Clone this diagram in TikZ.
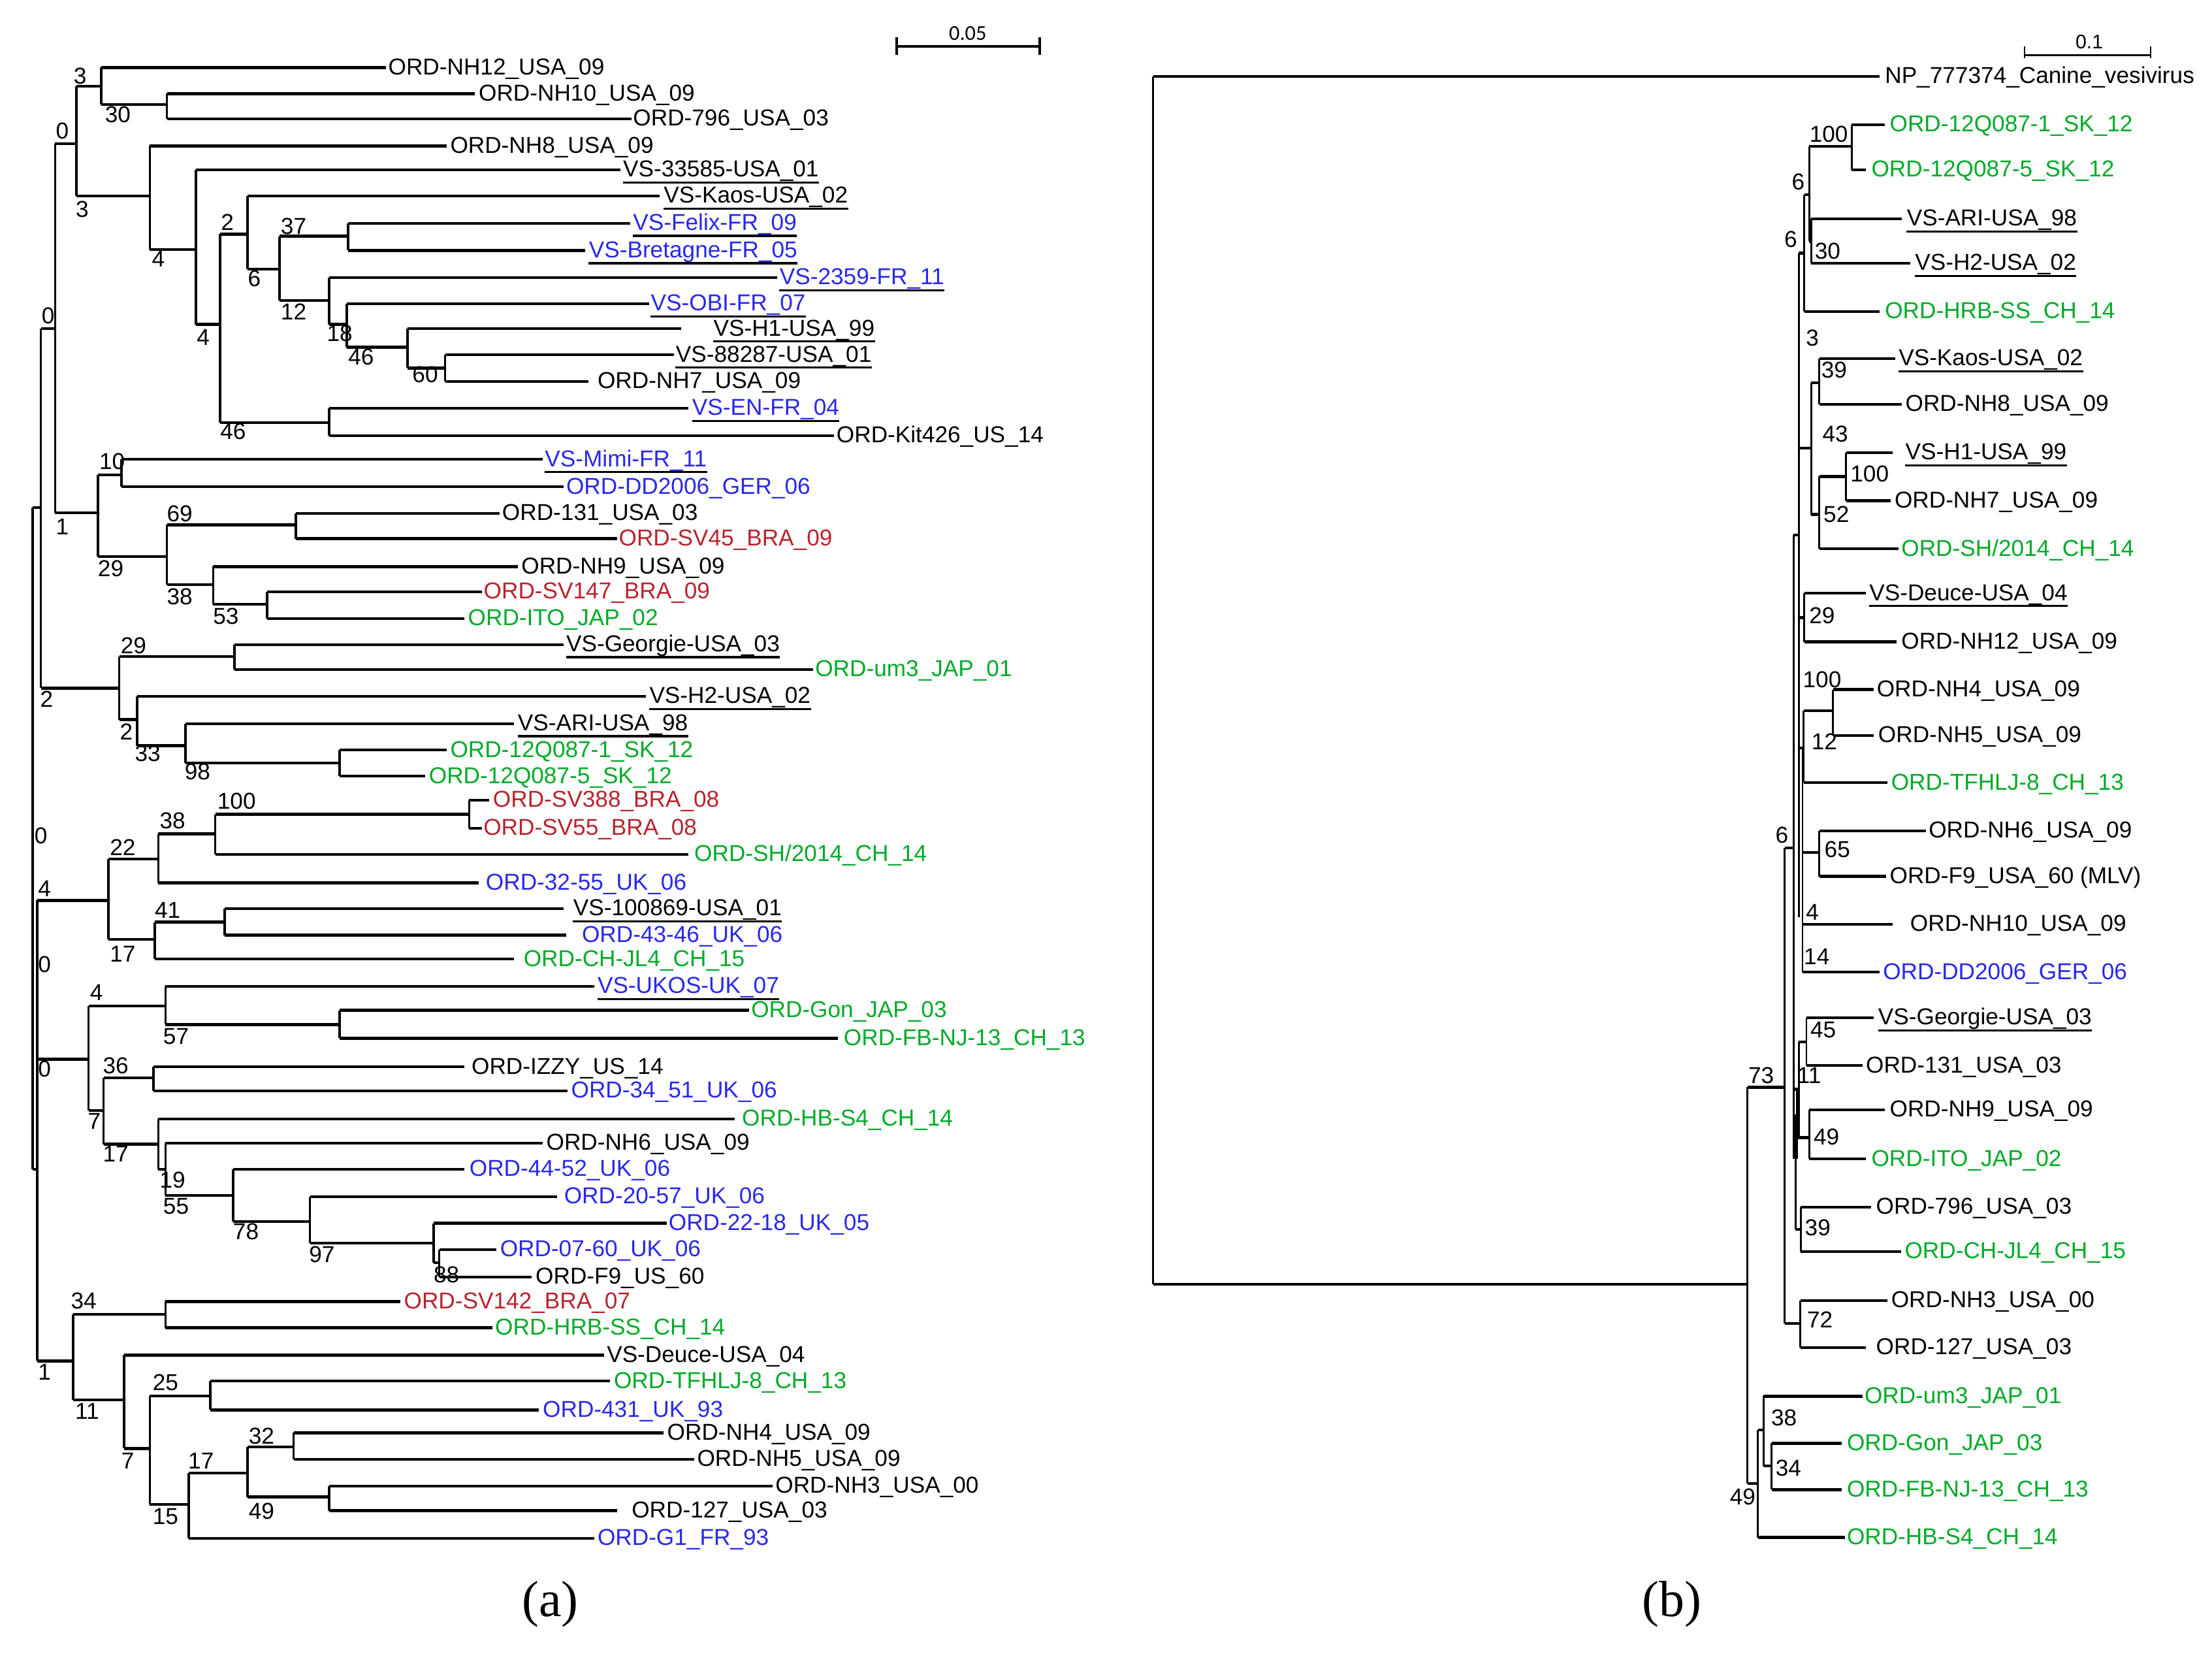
\documentclass[tikz,border=0pt]{standalone}
\usepackage{fontspec}
\setmainfont{Liberation Sans}
\newfontfamily\serifa{Liberation Serif}
\newfontfamily\carl{Carlito}
\definecolor{lblue}{RGB}{40,40,235}
\definecolor{lred}{RGB}{185,35,45}
\definecolor{lgreen}{RGB}{0,170,40}
\newcounter{bsn}
\newcommand\Hbr[3]{\draw[hbr] (#1,#3) -- (#2,#3);}
\newcommand\Vbr[3]{\draw[vbr] (#1,#2) -- (#1,#3);}
\newcommand\Leaf[7]{\draw[hbr] (#2,#4) -- (#3,#4);\node[lab,text=#6] (#1) at (#5,#4) {#7};}
\newcommand\Uline[1]{\draw[ulin] ([yshift=-9pt]#1.west) -- ([yshift=-9pt]#1.east);}
\newcommand\Boot[3]{\stepcounter{bsn}\node[bsl] (bs\thebsn) at (#1,#2) {#3};}
\begin{document}
\begin{tikzpicture}[x=1pt,y=-1pt,
  hbr/.style={line width=2pt,line cap=square},
  vbr/.style={line width=1.7pt,line cap=square},
  lab/.style={font=\fontsize{16.3}{18}\selectfont,inner sep=0pt,text height=12pt,text depth=2pt,anchor=west},
  bsl/.style={font=\fontsize{16.3}{18}\selectfont,inner sep=0pt},
  ulin/.style={line width=1.6pt}]
\fill[white] (0,0) rectangle (1568,1172);
\useasboundingbox (0,0) rectangle (1568,1172);

% ================= LEFT TREE (a) =================
\Vbr{23.0}{359.6}{828.7}
\Hbr{23.0}{29.0}{359.6}
\Hbr{23.0}{26.5}{828.7}
\Vbr{29.0}{233.0}{487.7}
\Hbr{29.0}{39.1}{233.0}
\Vbr{39.1}{101.9}{363.5}
\Hbr{39.1}{54.2}{101.9}
\Vbr{54.2}{61.0}{138.9}
\Hbr{54.2}{71.9}{61.0}
\Vbr{71.9}{47.9}{74.1}
\Leaf{aNHtw}{71.9}{273.6}{47.9}{275.1}{black}{ORD-NH12\_USA\_09}
\Hbr{71.9}{118.3}{74.1}
\Vbr{118.3}{66.4}{84.1}
\Leaf{aNHten}{118.3}{336.6}{66.4}{339.2}{black}{ORD-NH10\_USA\_09}
\Leaf{aSvn}{118.3}{447.6}{84.1}{448.6}{black}{ORD-796\_USA\_03}
\Hbr{54.2}{106.2}{138.9}
\Vbr{106.2}{103.4}{176.7}
\Leaf{aNHe}{106.2}{316.5}{103.4}{319.0}{black}{ORD-NH8\_USA\_09}
\Hbr{106.2}{139.0}{176.7}
\Vbr{139.0}{120.4}{229.9}
\Leaf{aVSa}{139.0}{440.0}{120.4}{441.5}{black}{VS-33585-USA\_01}\Uline{aVSa}
\Hbr{139.0}{156.1}{229.9}
\Vbr{156.1}{165.9}{299.4}
\Hbr{156.1}{175.3}{165.9}
\Vbr{175.3}{138.9}{190.6}
\Leaf{aKaos}{175.3}{467.8}{138.9}{470.3}{black}{VS-Kaos-USA\_02}\Uline{aKaos}
\Hbr{175.3}{198.0}{190.6}
\Vbr{198.0}{167.4}{213.0}
\Hbr{198.0}{246.9}{167.4}
\Vbr{246.9}{158.2}{177.5}
\Leaf{aFelix}{246.9}{446.6}{158.2}{448.6}{lblue}{VS-Felix-FR\_09}\Uline{aFelix}
\Leaf{aBret}{246.9}{414.8}{177.5}{417.3}{lblue}{VS-Bretagne-FR\_05}\Uline{aBret}
\Hbr{198.0}{233.3}{213.0}
\Vbr{233.3}{196.8}{229.9}
\Leaf{aTwo}{233.3}{551.0}{196.8}{552.5}{lblue}{VS-2359-FR\_11}\Uline{aTwo}
\Hbr{233.3}{245.9}{229.9}
\Vbr{245.9}{215.3}{246.1}
\Leaf{aOBI}{245.9}{460.2}{215.3}{461.2}{lblue}{VS-OBI-FR\_07}\Uline{aOBI}
\Hbr{245.9}{288.8}{246.1}
\Vbr{288.8}{233.0}{260.8}
\Leaf{aHone}{288.8}{482.9}{233.0}{505.6}{black}{VS-H1-USA\_99}\Uline{aHone}
\Hbr{288.8}{315.5}{260.8}
\Vbr{315.5}{251.5}{270.4}
\Leaf{aEight}{315.5}{477.9}{251.5}{478.9}{black}{VS-88287-USA\_01}\Uline{aEight}
\Leaf{aNHsv}{315.5}{417.3}{270.4}{423.4}{black}{ORD-NH7\_USA\_09}
\Hbr{156.1}{233.3}{299.4}
\Vbr{233.3}{289.4}{308.7}
\Leaf{aEN}{233.3}{487.9}{289.4}{490.5}{lblue}{VS-EN-FR\_04}\Uline{aEN}
\Leaf{aKit}{233.3}{591.3}{308.7}{592.8}{black}{ORD-Kit426\_US\_14}
\Hbr{39.1}{69.4}{363.5}
\Vbr{69.4}{336.5}{394.3}
\Hbr{69.4}{86.0}{336.5}
\Vbr{86.0}{325.6}{345.0}
\Leaf{aMimi}{86.0}{384.6}{325.6}{386.1}{lblue}{VS-Mimi-FR\_11}\Uline{aMimi}
\Leaf{aDD}{86.0}{399.7}{345.0}{401.2}{lblue}{ORD-DD2006\_GER\_06}
\Hbr{69.4}{118.3}{394.3}
\Vbr{118.3}{371.9}{414.4}
\Hbr{118.3}{209.6}{371.9}
\Vbr{209.6}{363.8}{381.7}
\Leaf{aOTO}{209.6}{354.3}{363.8}{355.8}{black}{ORD-131\_USA\_03}
\Leaf{aSVff}{209.6}{437.5}{381.7}{438.5}{lred}{ORD-SV45\_BRA\_09}
\Hbr{118.3}{151.1}{414.4}
\Vbr{151.1}{401.6}{428.3}
\Leaf{aNHn}{151.1}{366.9}{401.6}{369.4}{black}{ORD-NH9\_USA\_09}
\Hbr{151.1}{189.4}{428.3}
\Vbr{189.4}{419.3}{438.3}
\Leaf{aSVof}{189.4}{341.7}{419.3}{342.7}{lred}{ORD-SV147\_BRA\_09}
\Leaf{aITO}{189.4}{329.1}{438.3}{331.6}{lgreen}{ORD-ITO\_JAP\_02}
\Hbr{29.0}{84.5}{487.7}
\Vbr{84.5}{465.3}{510.0}
\Hbr{84.5}{166.2}{465.3}
\Vbr{166.2}{456.8}{474.5}
\Leaf{aGeo}{166.2}{399.7}{456.8}{401.2}{black}{VS-Georgie-USA\_03}\Uline{aGeo}
\Leaf{aUm}{166.2}{576.2}{474.5}{577.7}{lgreen}{ORD-um3\_JAP\_01}
\Hbr{84.5}{97.1}{510.0}
\Vbr{97.1}{493.5}{528.5}
\Leaf{aHtwo}{97.1}{457.7}{493.5}{460.2}{black}{VS-H2-USA\_02}\Uline{aHtwo}
\Hbr{97.1}{131.4}{528.5}
\Vbr{131.4}{512.8}{540.8}
\Leaf{aARI}{131.4}{364.4}{512.8}{366.9}{black}{VS-ARI-USA\_98}\Uline{aARI}
\Hbr{131.4}{240.8}{540.8}
\Vbr{240.8}{531.6}{550.1}
\Leaf{aQone}{240.8}{316.5}{531.6}{319.0}{lgreen}{ORD-12Q087-1\_SK\_12}
\Leaf{aQfive}{240.8}{301.4}{550.1}{303.9}{lgreen}{ORD-12Q087-5\_SK\_12}
% lower half
\Vbr{26.5}{638.1}{964.5}
\Hbr{26.5}{76.9}{638.1}
\Vbr{76.9}{608.7}{665.8}
\Hbr{76.9}{112.2}{608.7}
\Vbr{112.2}{591.0}{625.7}
\Hbr{112.2}{152.6}{591.0}
\Vbr{152.6}{577.1}{605.6}
\Hbr{152.6}{332.6}{577.1}
\Vbr{332.6}{567.1}{587.1}
\Leaf{aSVte}{332.6}{346.7}{567.1}{349.3}{lred}{ORD-SV388\_BRA\_08}
\Leaf{aSVff2}{332.6}{341.7}{587.1}{342.5}{lred}{ORD-SV55\_BRA\_08}
\Leaf{aSH}{152.6}{487.9}{605.6}{492.0}{lgreen}{ORD-SH/2014\_CH\_14}
\Leaf{aTtf}{112.2}{339.2}{625.7}{344.2}{lblue}{ORD-32-55\_UK\_06}
\Hbr{76.9}{109.7}{665.8}
\Vbr{109.7}{653.5}{679.7}
\Hbr{109.7}{159.1}{653.5}
\Vbr{159.1}{643.9}{662.7}
\Leaf{aVSb}{159.1}{399.7}{643.9}{406.2}{black}{VS-100869-USA\_01}\Uline{aVSb}
\Leaf{aFth}{159.1}{401.2}{662.7}{412.3}{lblue}{ORD-43-46\_UK\_06}
\Leaf{aCH}{109.7}{364.4}{679.7}{371.0}{lgreen}{ORD-CH-JL4\_CH\_15}
\Hbr{26.5}{62.8}{750.7}
\Vbr{62.8}{712.9}{787.0}
\Hbr{62.8}{117.3}{712.9}
\Vbr{117.3}{699.0}{726.1}
\Leaf{aUKOS}{117.3}{421.4}{699.0}{423.4}{lblue}{VS-UKOS-UK\_07}\Uline{aUKOS}
\Hbr{117.3}{240.8}{726.1}
\Vbr{240.8}{716.0}{735.8}
\Leaf{aGon}{240.8}{530.8}{716.0}{532.3}{lgreen}{ORD-Gon\_JAP\_03}
\Leaf{aFB}{240.8}{593.8}{735.8}{597.9}{lgreen}{ORD-FB-NJ-13\_CH\_13}
\Hbr{62.8}{73.4}{787.0}
\Vbr{73.4}{763.9}{810.9}
\Hbr{73.4}{108.7}{763.9}
\Vbr{108.7}{756.1}{773.1}
\Leaf{aIZZY}{108.7}{329.1}{756.1}{334.1}{black}{ORD-IZZY\_US\_14}
\Leaf{aTfo}{108.7}{402.2}{773.1}{404.7}{lblue}{ORD-34\_51\_UK\_06}
\Hbr{73.4}{112.2}{810.9}
\Vbr{112.2}{792.9}{828.7}
\Leaf{aHB}{112.2}{520.7}{792.9}{525.8}{lgreen}{ORD-HB-S4\_CH\_14}
\Hbr{112.2}{117.3}{828.7}
\Vbr{117.3}{810.2}{847.2}
\Leaf{aNHsix}{117.3}{384.6}{810.2}{387.1}{black}{ORD-NH6\_USA\_09}
\Hbr{117.3}{165.2}{847.2}
\Vbr{165.2}{828.7}{865.7}
\Leaf{aFft}{165.2}{329.1}{828.7}{332.6}{lblue}{ORD-44-52\_UK\_06}
\Hbr{165.2}{219.7}{865.7}
\Vbr{219.7}{848.0}{881.1}
\Leaf{aTwf}{219.7}{394.7}{848.0}{399.7}{lblue}{ORD-20-57\_UK\_06}
\Hbr{219.7}{307.4}{881.1}
\Vbr{307.4}{866.9}{895.0}
\Leaf{aTte}{307.4}{472.8}{866.9}{473.8}{lblue}{ORD-22-18\_UK\_05}
\Hbr{307.4}{311.4}{895.0}
\Vbr{311.4}{885.5}{905.0}
\Leaf{aZs}{311.4}{351.8}{885.5}{354.3}{lblue}{ORD-07-60\_UK\_06}
\Leaf{aFn}{311.4}{377.0}{905.0}{379.5}{black}{ORD-F9\_US\_60}
\Hbr{26.5}{51.7}{964.5}
\Vbr{51.7}{931.3}{992.0}
\Hbr{51.7}{117.3}{931.3}
\Vbr{117.3}{922.4}{941.0}
\Leaf{aSVoft}{117.3}{283.7}{922.4}{286.2}{lred}{ORD-SV142\_BRA\_07}
\Leaf{aHRB}{117.3}{349.2}{941.0}{350.8}{lgreen}{ORD-HRB-SS\_CH\_14}
\Hbr{51.7}{88.0}{992.0}
\Vbr{88.0}{960.3}{1026.5}
\Leaf{aDeuce}{88.0}{428.4}{960.3}{430.0}{black}{VS-Deuce-USA\_04}
\Hbr{88.0}{106.2}{1026.5}
\Vbr{106.2}{989.2}{1066.3}
\Hbr{106.2}{149.0}{989.2}
\Vbr{149.0}{978.8}{999.2}
\Leaf{aTF}{149.0}{432.5}{978.8}{435.0}{lgreen}{ORD-TFHLJ-8\_CH\_13}
\Leaf{aFot}{149.0}{382.0}{999.2}{384.6}{lblue}{ORD-431\_UK\_93}
\Hbr{106.2}{133.9}{1066.3}
\Vbr{133.9}{1044.0}{1090.2}
\Hbr{133.9}{175.3}{1044.0}
\Vbr{175.3}{1025.4}{1060.9}
\Hbr{175.3}{208.1}{1025.4}
\Vbr{208.1}{1015.4}{1034.2}
\Leaf{aNHfour}{208.1}{470.3}{1015.4}{472.8}{black}{ORD-NH4\_USA\_09}
\Leaf{aNHfive}{208.1}{492.0}{1034.2}{494.0}{black}{ORD-NH5\_USA\_09}
\Hbr{175.3}{233.3}{1060.9}
\Vbr{233.3}{1053.2}{1070.6}
\Leaf{aNHthree}{233.3}{547.5}{1053.2}{549.5}{black}{ORD-NH3\_USA\_00}
\Leaf{aOtS}{233.3}{437.5}{1070.6}{447.6}{black}{ORD-127\_USA\_03}
\Leaf{aGone}{133.9}{421.4}{1090.2}{423.4}{lblue}{ORD-G1\_FR\_93}

\Boot{56.8}{54.0}{3}\Boot{83.5}{81.0}{30}\Boot{44.2}{92.6}{0}\Boot{58.3}{148.2}{3}
\Boot{161.2}{157.4}{2}\Boot{208.1}{160.5}{37}\Boot{112.2}{183.6}{4}\Boot{180.3}{197.5}{6}
\Boot{208.1}{220.7}{12}\Boot{34.1}{223.8}{0}\Boot{144.0}{239.2}{4}\Boot{240.8}{236.1}{18}
\Boot{256.0}{253.1}{46}\Boot{301.4}{265.4}{60}\Boot{165.2}{305.6}{46}\Boot{79.5}{327.2}{10}
\Boot{44.2}{373.5}{1}\Boot{127.4}{364.2}{69}\Boot{78.5}{402.8}{29}\Boot{127.4}{422.9}{38}
\Boot{160.1}{436.8}{53}\Boot{94.6}{457.6}{29}\Boot{33.1}{495.4}{2}\Boot{89.5}{518.5}{2}
\Boot{104.7}{533.9}{33}\Boot{140.0}{547.0}{98}\Boot{167.7}{567.9}{100}\Boot{122.3}{581.7}{38}
\Boot{87.0}{600.3}{22}\Boot{29.0}{592.5}{0}\Boot{31.5}{629.6}{4}\Boot{118.8}{645.0}{41}
\Boot{87.0}{675.9}{17}\Boot{31.5}{683.6}{0}\Boot{68.4}{703.6}{4}\Boot{124.8}{734.5}{57}
\Boot{31.5}{757.7}{0}\Boot{82.0}{755.4}{36}\Boot{66.9}{794.7}{7}\Boot{82.0}{817.9}{17}
\Boot{122.3}{836.4}{19}\Boot{124.8}{854.9}{55}\Boot{174.3}{872.7}{78}\Boot{228.2}{888.8}{97}
\Boot{316.5}{903.5}{88}\Boot{59.3}{922.1}{34}\Boot{31.5}{972.2}{1}\Boot{61.8}{1000.0}{11}
\Boot{117.3}{979.9}{25}\Boot{90.6}{1035.5}{7}\Boot{142.5}{1035.5}{17}\Boot{185.4}{1017.7}{32}
\Boot{117.3}{1074.8}{15}\Boot{185.4}{1071.0}{49}

% scale bar (a)
\coordinate (sbaL) at (635.5,32.7);
\coordinate (sbaR) at (736.9,32.7);
\draw[line width=1.8pt] (sbaL) -- (sbaR);
\draw[line width=1.8pt] ([yshift=6.3pt]sbaL) -- ([yshift=-6pt]sbaL);
\draw[line width=1.8pt] ([yshift=6.3pt]sbaR) -- ([yshift=-6pt]sbaR);
\node[inner sep=0pt,font=\carl\fontsize{15}{17}\selectfont] (sbat) at (686,23.5) {0.05};

\node[inner sep=0pt,font=\serifa\fontsize{36}{40}\selectfont] (capa) at (390,1137) {(a)};

% ================= RIGHT TREE (b) =================
\begin{scope}[hbr/.style={line width=2pt,line cap=square},vbr/.style={line width=1.3pt,line cap=square}]
\Vbr{817.5}{54.2}{910.1}
\Hbr{817.5}{1238.7}{910.1}
\Leaf{bNP}{817.5}{1332.2}{54.2}{1336.0}{black}{NP\_777374\_Canine\_vesivirus}
\Vbr{1238.7}{770.5}{1051.3}
\Hbr{1238.7}{1265.1}{770.5}
\Vbr{1265.1}{600.8}{937.9}
\Hbr{1265.1}{1271.3}{600.8}
\Vbr{1271.3}{379.2}{821.4}
\Hbr{1271.3}{1275.1}{379.2}
\Vbr{1275.1}{179.4}{650}
\Hbr{1275.1}{1279.0}{179.4}
\Vbr{1279.0}{137.8}{220.7}
\Leaf{bHRB}{1279.0}{1332.2}{220.7}{1336.0}{lgreen}{ORD-HRB-SS\_CH\_14}
\Hbr{1279.0}{1282.4}{137.8}
\Vbr{1282.4}{103.7}{171.0}
\Hbr{1282.4}{1312.5}{103.7}
\Vbr{1312.5}{88.4}{120.3}
\Leaf{bQone}{1312.5}{1336.0}{88.4}{1339.4}{lgreen}{ORD-12Q087-1\_SK\_12}
\Leaf{bQfive}{1312.5}{1322.5}{120.3}{1326.4}{lgreen}{ORD-12Q087-5\_SK\_12}
\Hbr{1282.4}{1283.9}{171.0}
\Vbr{1283.9}{155.1}{186.6}
\Leaf{bARI}{1283.9}{1348.1}{155.1}{1351.5}{black}{VS-ARI-USA\_98}\Uline{bARI}
\Leaf{bHtwo}{1283.9}{1353.9}{186.6}{1357.3}{black}{VS-H2-USA\_02}\Uline{bHtwo}
\Hbr{1275.1}{1283.9}{317.5}
\Vbr{1283.9}{271.4}{364.6}
\Hbr{1283.9}{1289.6}{271.4}
\Vbr{1289.6}{254.1}{286.6}
\Leaf{bKaos}{1289.6}{1343.3}{254.1}{1345.7}{black}{VS-Kaos-USA\_02}\Uline{bKaos}
\Leaf{bNHe}{1289.6}{1348.1}{286.6}{1350.5}{black}{ORD-NH8\_USA\_09}
\Hbr{1283.9}{1289.6}{364.6}
\Vbr{1289.6}{337.7}{389.0}
\Hbr{1289.6}{1308.6}{337.7}
\Vbr{1308.6}{320.8}{354.9}
\Leaf{bHone}{1308.6}{1341.8}{320.8}{1350.5}{black}{VS-H1-USA\_99}\Uline{bHone}
\Leaf{bNHsv}{1308.6}{1340.4}{354.9}{1342.8}{black}{ORD-NH7\_USA\_09}
\Leaf{bSH}{1289.6}{1345.7}{389.0}{1347.6}{lgreen}{ORD-SH/2014\_CH\_14}
\Hbr{1275.1}{1279.0}{437.7}
\Vbr{1279.0}{420.5}{454.9}
\Leaf{bDeuce}{1279.0}{1322.5}{420.5}{1324.9}{black}{VS-Deuce-USA\_04}\Uline{bDeuce}
\Leaf{bNHtw}{1279.0}{1344.3}{454.9}{1347.6}{black}{ORD-NH12\_USA\_09}
\Hbr{1275.1}{1277.7}{530}
\Vbr{1277.7}{530}{689.0}
\Vbr{1278.5}{503.7}{554.7}
\Hbr{1278.5}{1299.4}{503.7}
\Vbr{1299.4}{488.7}{521.2}
\Leaf{bNHfour}{1299.4}{1328.3}{488.7}{1330.2}{black}{ORD-NH4\_USA\_09}
\Leaf{bNHfive}{1299.4}{1328.3}{521.2}{1331.2}{black}{ORD-NH5\_USA\_09}
\Leaf{bTF}{1278.5}{1338.0}{554.7}{1340.4}{lgreen}{ORD-TFHLJ-8\_CH\_13}
\Hbr{1277.7}{1289.6}{604.2}
\Vbr{1289.6}{588.9}{621.1}
\Leaf{bNHsix}{1289.6}{1365.0}{588.9}{1367.0}{black}{ORD-NH6\_USA\_09}
\Leaf{bFn}{1289.6}{1337.0}{621.1}{1339.4}{black}{ORD-F9\_USA\_60 (MLV)}
\Leaf{bNHten}{1277.7}{1341.8}{655.1}{1353.9}{black}{ORD-NH10\_USA\_09}
\Leaf{bDD}{1277.7}{1332.2}{689.0}{1334.6}{lblue}{ORD-DD2006\_GER\_06}
\Hbr{1271.3}{1275.1}{772}
\Vbr{1275.1}{738.3}{806.2}
\Hbr{1275.1}{1280.5}{738.3}
\Vbr{1280.5}{721.3}{755.2}
\Leaf{bGeo}{1280.5}{1328.3}{721.3}{1331.2}{black}{VS-Georgie-USA\_03}\Uline{bGeo}
\Leaf{bOTO}{1280.5}{1320.1}{755.2}{1322.5}{black}{ORD-131\_USA\_03}
\Vbr{1273.9}{772}{821.4}
\Hbr{1273.9}{1282.4}{806.2}
\Vbr{1282.4}{786.5}{821.4}
\Leaf{bNHn}{1282.4}{1336.0}{786.5}{1339.4}{black}{ORD-NH9\_USA\_09}
\Leaf{bITO}{1282.4}{1322.5}{821.4}{1326.4}{lgreen}{ORD-ITO\_JAP\_02}
\Vbr{1272.8}{790}{871.4}
\Hbr{1272.8}{1276.5}{871.4}
\Vbr{1276.5}{855.4}{887.0}
\Leaf{bSvn}{1276.5}{1326.4}{855.4}{1329.7}{black}{ORD-796\_USA\_03}
\Leaf{bCH}{1276.5}{1347.6}{887.0}{1350.0}{lgreen}{ORD-CH-JL4\_CH\_15}
\Hbr{1265.1}{1276.2}{937.9}
\Vbr{1276.2}{921.6}{954.9}
\Leaf{bNHthree}{1276.2}{1338.0}{921.6}{1340.4}{black}{ORD-NH3\_USA\_00}
\Leaf{bOtS}{1276.2}{1322.5}{954.9}{1329.7}{black}{ORD-127\_USA\_03}
\Hbr{1238.7}{1246.1}{1051.3}
\Vbr{1246.1}{1013.3}{1089.6}
\Hbr{1246.1}{1250.0}{1013.3}
\Vbr{1250.0}{989.5}{1038.7}
\Leaf{bUm}{1250.0}{1320.1}{989.5}{1321.5}{lgreen}{ORD-um3\_JAP\_01}
\Hbr{1250.0}{1255.8}{1038.7}
\Vbr{1255.8}{1022.8}{1055.7}
\Leaf{bGon}{1255.8}{1305.6}{1022.8}{1309.0}{lgreen}{ORD-Gon\_JAP\_03}
\Leaf{bFB}{1255.8}{1305.6}{1055.7}{1309.0}{lgreen}{ORD-FB-NJ-13\_CH\_13}
\Leaf{bHB}{1246.1}{1308.0}{1089.6}{1309.0}{lgreen}{ORD-HB-S4\_CH\_14}
\end{scope}

\Boot{1296.3}{94.9}{100}\Boot{1274.7}{129.1}{6}\Boot{1269.3}{169.7}{6}\Boot{1295.5}{177.8}{30}
\Boot{1284.7}{239.5}{3}\Boot{1300.1}{262.3}{39}\Boot{1300.9}{307.8}{43}\Boot{1325.3}{336.0}{100}
\Boot{1301.7}{364.6}{52}\Boot{1291.6}{436.1}{29}\Boot{1291.6}{481.6}{100}\Boot{1293.2}{525.4}{12}
\Boot{1263.1}{591.6}{6}\Boot{1302.4}{601.8}{65}\Boot{1284.7}{646.6}{4}\Boot{1287.8}{677.8}{14}
\Boot{1292.4}{729.8}{45}\Boot{1282.4}{762.0}{11}\Boot{1248.4}{762.0}{73}\Boot{1294.7}{805.5}{49}
\Boot{1288.5}{870.0}{39}\Boot{1290.1}{935.2}{72}\Boot{1264.6}{1004.8}{38}\Boot{1267.7}{1040.4}{34}
\Boot{1235.3}{1060.8}{49}

% scale bar (b)
\coordinate (sbbL) at (1435.1,39.0);
\coordinate (sbbR) at (1524.5,39.0);
\draw[line width=1.6pt] (sbbL) -- (sbbR);
\draw[line width=1.3pt] ([yshift=6.2pt]sbbL) -- ([yshift=-2.4pt]sbbL);
\draw[line width=1.3pt] ([yshift=6.2pt]sbbR) -- ([yshift=-2.4pt]sbbR);
\node[inner sep=0pt,font=\fontsize{14}{16}\selectfont] (sbbt) at (1481,29.5) {0.1};

\node[inner sep=0pt,font=\serifa\fontsize{36}{40}\selectfont] (capb) at (1185,1137) {(b)};
\end{tikzpicture}
\end{document}
